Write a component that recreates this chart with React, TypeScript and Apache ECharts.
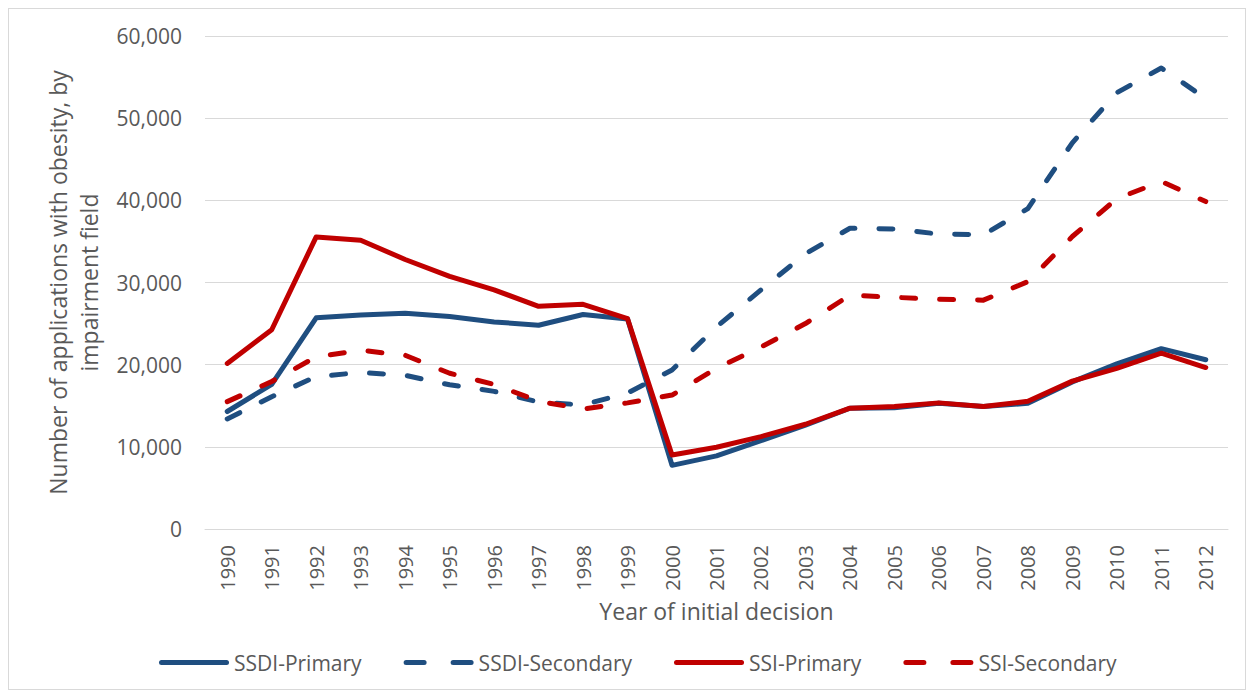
import React, { useEffect, useRef } from "react";
import * as echarts from "echarts";

const years = ["1990","1991","1992","1993","1994","1995","1996","1997","1998","1999","2000","2001","2002","2003","2004","2005","2006","2007","2008","2009","2010","2011","2012"];
const ssdiPrimary = [14300, 17600, 25700, 26050, 26250, 25850, 25200, 24800, 26100, 25550, 7750, 8900, 10750, 12650, 14700, 14750, 15300, 14900, 15300, 17900, 20100, 21950, 20600];
const ssdiSecondary = [13400, 16100, 18550, 19050, 18700, 17550, 16750, 15450, 15100, 16550, 19350, 24600, 29100, 33500, 36600, 36500, 35900, 35800, 39000, 47000, 53100, 56100, 52400];
const ssiPrimary = [20150, 24250, 35550, 35150, 32800, 30750, 29100, 27100, 27350, 25600, 9000, 9950, 11250, 12750, 14700, 14900, 15350, 14900, 15550, 18000, 19550, 21400, 19650];
const ssiSecondary = [15500, 17950, 20950, 21750, 21150, 18950, 17600, 15550, 14600, 15350, 16300, 19550, 22150, 25000, 28450, 28200, 27950, 27850, 30100, 35600, 40200, 42300, 39850];

const BLUE = "#1F4E80";
const RED = "#C00000";
const TXT = "#595959";
const FONT = "'Open Sans', sans-serif";

const SOLID_ICON = "path://M2.5,0H67.5A2.5,2.5,0,0,1,67.5,5H2.5A2.5,2.5,0,0,1,2.5,0Z";
const DASH_ICON = "path://M2.5,0H20.5A2.5,2.5,0,0,1,20.5,5H2.5A2.5,2.5,0,0,1,2.5,0Z M49.5,0H67.5A2.5,2.5,0,0,1,67.5,5H49.5A2.5,2.5,0,0,1,49.5,0Z";

export default function App() {
  const ref = useRef<HTMLDivElement>(null);
  useEffect(() => {
    if (!ref.current) return;
    const chart = echarts.init(ref.current, undefined, { renderer: "svg" });
    const mk = (name: string, data: number[], color: string, dashed: boolean) => ({
      name,
      type: "line",
      data,
      symbol: "none",
      showSymbol: false,
      smooth: false,
      lineStyle: {
        color,
        width: 5,
        type: dashed ? [14, 24] : "solid",
        cap: "round",
        join: "round",
      },
      itemStyle: { color },
    });
    chart.setOption({
      animation: false,
      textStyle: { fontFamily: FONT },
      grid: { left: 196, right: 17, top: 27, bottom: 160, containLabel: false },
      xAxis: {
        type: "category",
        data: years,
        boundaryGap: true,
        axisLine: { show: true, lineStyle: { color: "#d9d9d9", width: 1 } },
        axisTick: { show: false },
        axisLabel: { rotate: 90, color: TXT, fontSize: 20, fontFamily: FONT, margin: 16, interval: 0 },
        name: "Year of initial decision",
        nameLocation: "middle",
        nameGap: 70,
        nameTextStyle: { color: TXT, fontSize: 23, fontFamily: FONT },
      },
      yAxis: {
        type: "value",
        min: 0,
        max: 60000,
        interval: 10000,
        axisLine: { show: false },
        axisTick: { show: false },
        splitLine: { lineStyle: { color: "#d9d9d9", width: 1 } },
        axisLabel: {
          color: TXT,
          fontSize: 21,
          fontFamily: FONT,
          margin: 23,
          formatter: (v: number) => v.toLocaleString("en-US"),
        },
        name: "Number of applications with obesity, by\nimpairment field",
        nameLocation: "middle",
        nameGap: 101,
        nameRotate: 90,
        nameTextStyle: { color: TXT, fontSize: 23, fontFamily: FONT, lineHeight: 31 },
      },
      legend: {
        left: 150,
        top: 643,
        padding: 0,
        itemWidth: 70,
        itemHeight: 5,
        itemGap: 42,
        textStyle: { color: TXT, fontSize: 21, fontFamily: FONT },
        data: [
          { name: "SSDI-Primary", icon: SOLID_ICON, itemStyle: { color: BLUE } },
          { name: "SSDI-Secondary", icon: DASH_ICON, itemStyle: { color: BLUE } },
          { name: "SSI-Primary", icon: SOLID_ICON, itemStyle: { color: RED } },
          { name: "SSI-Secondary", icon: DASH_ICON, itemStyle: { color: RED } },
        ],
      },
      series: [
        mk("SSDI-Primary", ssdiPrimary, BLUE, false),
        mk("SSDI-Secondary", ssdiSecondary, BLUE, true),
        mk("SSI-Primary", ssiPrimary, RED, false),
        mk("SSI-Secondary", ssiSecondary, RED, true),
      ],
    });
    return () => chart.dispose();
  }, []);
  return (
    <div style={{ width: 1238, height: 682, border: "1px solid #d9d9d9", boxSizing: "border-box" }}>
      <div ref={ref} style={{ width: 1236, height: 680 }} />
    </div>
  );
}
